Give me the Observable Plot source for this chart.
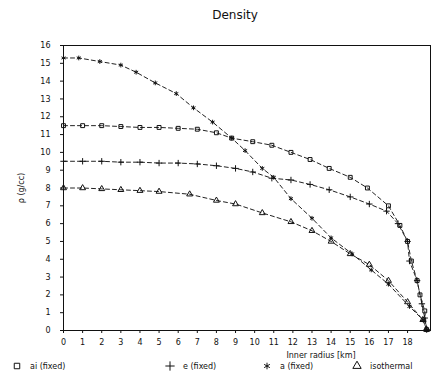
<!DOCTYPE html>
<html><head><meta charset="utf-8">
<script src="https://cdn.jsdelivr.net/npm/d3@7"></script>
<script src="https://cdn.jsdelivr.net/npm/@observablehq/plot@0.6"></script>
<style>
body{margin:0;width:432px;height:378px;overflow:hidden;background:#fff;font-family:"DejaVu Sans",sans-serif;position:relative;}
#title{position:absolute;left:0;top:0;width:432px;height:30px;}
#title span{position:absolute;left:235px;top:8px;transform:translateX(-50%);font-size:12px;color:#111;}
#chart{position:absolute;left:0;top:30px;}
#xlabel{position:absolute;left:321px;top:351px;transform:translateX(-50%);font-size:8px;color:#111;white-space:nowrap;}
.lg{position:absolute;top:361px;font-size:8px;color:#111;white-space:nowrap;}
.lg svg{vertical-align:middle;margin-right:8px;}
</style></head>
<body>
<div id="title"><span>Density</span></div>
<div id="chart"></div>
<div id="xlabel">Inner radius [km]</div>
<div id="legend"></div>
<script>
const seriesNames = ["ai (fixed)", "e (fixed)", "a (fixed)", "isothermal"];
const seriesSymbols = ["square", "plus", "asterisk", "triangle"];

const xA = [0,0.8,1.9,3,3.8,4.8,5.9,6.8,7.8,8.8,9.5,10.4,11,11.9,13,14,15.1,16.1,17,18.1,18.8,19];
const yA = [15.3,15.3,15.1,14.9,14.5,13.9,13.3,12.5,11.7,10.8,10.1,9.1,8.6,7.4,6.3,5.2,4.3,3.4,2.6,1.35,0.6,0.05];

const xB = [0,1,2,3,4,5,6,7,8,8.8,9.9,10.9,11.9,12.9,13.9,15,15.9,17,17.6,18,18.2,18.5,18.65,18.9,19];
const yB = [11.5,11.5,11.5,11.45,11.4,11.4,11.35,11.3,11.1,10.8,10.6,10.4,10.0,9.6,9.1,8.6,8.0,7.0,5.9,5.0,3.9,2.8,2.0,1.1,0.05];

const xC = [0,1,2,3,4,5,6,7,8,9,9.9,10.9,11.9,12.9,13.9,15,16,16.9,17.5,18,18.1,18.5,18.75,18.9,19];
const yC = [9.5,9.5,9.5,9.45,9.45,9.4,9.4,9.35,9.25,9.1,8.9,8.55,8.45,8.2,7.9,7.5,7.1,6.7,6.0,5.0,3.9,2.8,1.5,0.7,0.05];

const xD = [0,1,2,3,4,5,6.6,8,9,10.4,11.9,13,14,15,16,17,18,18.8,19];
const yD = [8.0,8.0,7.95,7.9,7.85,7.8,7.65,7.3,7.1,6.6,6.1,5.6,5.0,4.3,3.7,2.8,1.6,0.6,0.05];

const xTicks = d3.range(0, 19, 1);
const yTicks = d3.range(0, 17, 1);

const groups = [[xB,yB],[xC,yC],[xA,yA],[xD,yD]];
const data = groups.flatMap(([xs,ys],i) => xs.map((x,j)=>({x, y: ys[j], s: seriesNames[i], sym: seriesSymbols[i]})));

const chart = Plot.plot({
  width: 432, height: 332,
  marginTop: 15, marginBottom: 32, marginLeft: 63, marginRight: 2,
  style: {fontFamily: "DejaVu Sans, sans-serif", fontSize: "8px", color: "#111", background: "transparent"},
  x: {domain: [0, 19.2], ticks: xTicks, tickFormat: d => d, label: null, tickSize: 3, tickPadding: 6},
  y: {domain: [0, 16], ticks: yTicks, tickFormat: d => d, label: "ρ (g/cc)", labelAnchor: "center", labelArrow: "none", labelOffset: 45, tickSize: 3, tickPadding: 10},
  symbol: {domain: seriesNames, range: seriesSymbols},
  marks: [
    Plot.frame({stroke: "#111", strokeWidth: 1}),
    Plot.line(data, {x: "x", y: "y", z: "s", stroke: "#222", strokeWidth: 1, strokeDasharray: "4,3"}),
    Plot.dot(data, {x: "x", y: "y", symbol: "s", r: 2.2, stroke: "#111", strokeWidth: 1, fill: "none"})
  ]
});
document.getElementById("chart").appendChild(chart);

const lgX = [12, 165, 262, 352];
const leg = document.getElementById("legend");
seriesNames.forEach((name, i) => {
  const d = document.createElement("div");
  d.className = "lg";
  d.style.left = lgX[i] + "px";
  const sym = d3.symbol(Plot.scale({symbol:{domain:seriesNames, range:seriesSymbols}}).apply(name), 30)();
  d.innerHTML = `<svg width="10" height="10" viewBox="-5 -5 10 10"><path d="${sym}" fill="none" stroke="#111" stroke-width="1"/></svg>${name}`;
  leg.appendChild(d);
});
</script>
</body></html>
